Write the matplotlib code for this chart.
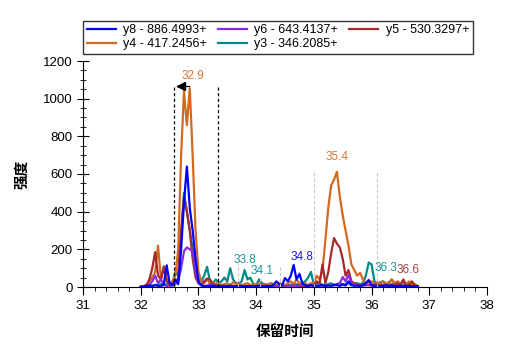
import numpy as np
import matplotlib
matplotlib.use("Agg")
import matplotlib.pyplot as plt
from matplotlib.ticker import MultipleLocator

plt.rcParams['font.family'] = ['Liberation Sans', 'Noto Sans CJK SC', 'DejaVu Sans']

# retention time grid (min)
t0, dt, n = 32.0, 0.05, 97
times = np.round(t0 + dt * np.arange(n), 3)

y8 = [2, 3, 5, 8, 4, 10, 6, 3, 15, 115,
      20, 8, 40, 15, 200, 450, 640, 420, 300, 150,
      30, 8, 5, 3, 4, 6, 3, 5, 4, 3,
      5, 3, 4, 2, 6, 4, 3, 5, 4, 3,
      4, 8, 5, 3, 6, 4, 10, 30, 15, 8,
      48, 30, 60, 117, 40, 70, 20, 8, 5, 10,
      6, 4, 8, 10, 5, 8, 6, 12, 10, 5,
      15, 8, 30, 10, 6, 8, 5, 10, 20, 37,
      10, 5, 8, 4, 6, 10, 5, 8, 4, 6,
      5, 8, 4, 6, 3, 5, 2]
y6 = [0, 2, 3, 10, 30, 60, 20, 40, 10, 5,
      5, 10, 20, 30, 100, 190, 210, 200, 190, 80,
      20, 10, 5, 8, 15, 10, 5, 4, 3, 5,
      3, 4, 5, 3, 4, 6, 3, 4, 5, 3,
      4, 5, 3, 6, 4, 5, 3, 4, 5, 3,
      5, 4, 6, 8, 5, 4, 10, 6, 5, 8,
      5, 4, 6, 8, 5, 10, 6, 8, 15, 20,
      53, 30, 64, 20, 10, 8, 6, 10, 8, 12,
      8, 6, 5, 4, 6, 5, 4, 6, 5, 4,
      5, 4, 6, 3, 4, 3, 2]
y5 = [0, 5, 10, 40, 100, 185, 60, 40, 110, 30,
      10, 20, 15, 50, 300, 480, 400, 300, 150, 50,
      20, 10, 30, 45, 40, 15, 10, 8, 5, 6,
      5, 8, 6, 4, 5, 6, 4, 5, 3, 4,
      5, 4, 6, 5, 4, 6, 5, 4, 6, 5,
      4, 6, 5, 8, 6, 10, 5, 8, 6, 10,
      8, 30, 20, 120, 20, 80, 180, 260, 230, 210,
      150, 60, 90, 30, 20, 15, 10, 8, 12, 10,
      8, 15, 10, 8, 12, 10, 8, 15, 10, 20,
      10, 40, 8, 10, 30, 8, 5]
y4 = [0, 5, 10, 30, 50, 80, 220, 40, 100, 40,
      20, 30, 60, 200, 700, 1040, 860, 1055, 700, 300,
      80, 30, 20, 40, 20, 25, 15, 20, 10, 15,
      20, 10, 25, 15, 20, 10, 15, 20, 10, 12,
      15, 20, 10, 15, 12, 20, 15, 10, 20, 15,
      10, 20, 30, 15, 40, 20, 15, 20, 10, 20,
      20, 60, 40, 90, 250, 420, 540, 570, 612, 480,
      380, 300, 220, 120, 90, 60, 75, 40, 20, 25,
      30, 20, 25, 15, 30, 20, 25, 40, 20, 30,
      20, 25, 15, 30, 10, 15, 5]
y3 = [0, 2, 4, 6, 8, 10, 12, 15, 20, 10,
      20, 20, 80, 60, 250, 500, 400, 300, 200, 100,
      40, 30, 60, 107, 30, 20, 40, 20, 30, 50,
      30, 100, 40, 20, 20, 30, 90, 40, 50, 15,
      10, 40, 20, 15, 10, 20, 15, 10, 12, 8,
      10, 8, 12, 10, 15, 10, 20, 30, 50, 80,
      10, 15, 20, 12, 10, 15, 20, 10, 15, 20,
      10, 15, 20, 10, 15, 20, 15, 20, 60, 130,
      120, 30, 15, 25, 30, 15, 20, 40, 15, 25,
      15, 30, 10, 20, 15, 10, 5]

series_names = ["y8 - 886.4993+", "y6 - 643.4137+", "y5 - 530.3297+",
                "y4 - 417.2456+", "y3 - 346.2085+"]
colors = {"y8": "#0000FF", "y6": "#8A2BE2", "y5": "#A52A2A",
          "y4": "#D2691E", "y3": "#008B8B"}

# peak labels
peak_times = [32.9, 35.4, 33.8, 34.1, 34.8, 36.3, 36.6]
peak_heights = [1090, 660, 110, 55, 130, 70, 60]
peak_series = ["y4", "y4", "y3", "y3", "y8", "y3", "y5"]
label_x = [32.9, 35.4, 33.8, 34.1, 34.8, 36.25, 36.63]

fig = plt.figure(figsize=(5.07, 3.51), dpi=100)
ax = fig.add_axes([83/507, 64/351, 404/507, 226/351])

data = {"y8": y8, "y6": y6, "y5": y5, "y4": y4, "y3": y3}
handles = {}
for key in ["y3", "y4", "y5", "y6", "y8"]:
    name = [s for s in series_names if s.startswith(key)][0]
    h, = ax.plot(times, data[key], color=colors[key], lw=1.6, label=name)
    handles[key] = h

# integration boundaries
ax.vlines([32.58, 33.34], 0, 1068, colors='black', linestyles=(0, (2.5, 2)), lw=0.9)
ax.plot([32.63, 32.84], [1068, 1068], color='black', lw=0.9)
ax.plot([32.69], [1068], marker='<', color='black', ms=6)
ax.vlines([35.0, 36.1], 0, 620, colors='#C8C8C8', linestyles=(0, (3, 2)), lw=0.8)
ax.vlines([33.69, 34.06, 34.42], 0, [128, 60, 110], colors='#C8C8C8',
          linestyles=(0, (3, 2)), lw=0.8)

for t, x, hgt, s in zip(peak_times, label_x, peak_heights, peak_series):
    ax.text(x, hgt, f"{t:.1f}", color=colors[s], fontsize=8.5,
            ha='center', va='bottom', alpha=0.9)

ax.set_xlim(31, 38)
ax.set_ylim(0, 1200)
ax.xaxis.set_major_locator(MultipleLocator(1))
ax.xaxis.set_minor_locator(MultipleLocator(0.2))
ax.yaxis.set_major_locator(MultipleLocator(200))
ax.yaxis.set_minor_locator(MultipleLocator(50))
ax.tick_params(axis='x', which='major', direction='out', length=6, labelsize=9.5)
ax.tick_params(axis='x', which='minor', direction='out', length=3)
ax.tick_params(axis='y', which='major', direction='inout', length=8, labelsize=9.5)
ax.tick_params(axis='y', which='minor', direction='inout', length=5)
for sp in ['top', 'right']:
    ax.spines[sp].set_visible(False)
ax.set_xlabel("保留时间", fontsize=10.5, fontweight='bold',
              family=['Noto Sans CJK SC'], labelpad=8)
ax.set_ylabel("强度", fontsize=10.5, fontweight='bold',
              family=['Noto Sans CJK SC'], labelpad=10)

order = ["y8", "y4", "y6", "y3", "y5"]
leg = fig.legend([handles[k] for k in order], [handles[k].get_label() for k in order],
                 ncol=3, loc='lower left', bbox_to_anchor=(83/507, (351-54)/351),
                 fontsize=9, frameon=True, fancybox=False, handlelength=2.3,
                 handletextpad=0.6, columnspacing=0.9, borderpad=0.3,
                 labelspacing=0.15, borderaxespad=0)
leg.get_frame().set_edgecolor('black')
leg.get_frame().set_linewidth(1.0)

fig.savefig("out.png", dpi=100)
